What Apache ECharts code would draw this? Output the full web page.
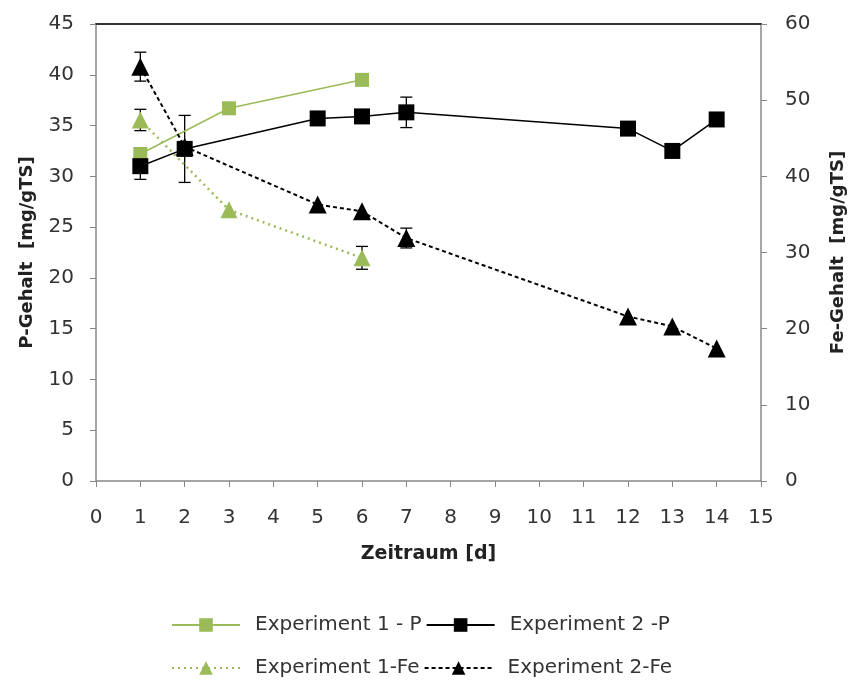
<!DOCTYPE html>
<html>
<head>
<meta charset="utf-8">
<script src="https://cdn.jsdelivr.net/npm/echarts@6/dist/echarts.min.js"></script>
<style>html,body{margin:0;padding:0;background:#fff}#c{width:849px;height:682px}</style>
</head>
<body>
<div id="c"></div>
<script>
const xTicks = [0, 15, 1];
const exp1P_x = [1, 3, 6];
const exp1P = [32.2, 36.7, 39.5];
const exp2P_x = [1, 2, 5, 6, 7, 12, 13, 14];
const exp2P = [31.0, 32.7, 35.7, 35.9, 36.3, 34.7, 32.5, 35.6];
const exp2P_err = [1.3, 3.3, 0, 0, 1.5, 0, 0, 0];
const exp1Fe_x = [1, 3, 6];
const exp1Fe = [47.4, 35.6, 29.3];
const exp1Fe_err = [1.4, 0, 1.5];
const exp2Fe_x = [1, 2, 5, 6, 7, 12, 13, 14];
const exp2Fe = [54.4, 43.9, 36.3, 35.4, 31.9, 21.6, 20.3, 17.4];
const exp2Fe_err = [1.9, 0, 0, 0, 1.3, 0, 0, 0];
const names = ['Experiment 1 - P', 'Experiment 2 -P', 'Experiment 1-Fe', 'Experiment 2-Fe'];

const GREEN = '#9BBB59';
const FONT = 'DejaVu Sans';

function pairs(xs, ys) { return xs.map((x, i) => [x, ys[i]]); }
function errData(xs, ys, es) {
  const out = [];
  xs.forEach((x, i) => { if (es[i] > 0) out.push([x, ys[i] - es[i], ys[i] + es[i]]); });
  return out;
}
function errSeries(data, yIdx) {
  return {
    type: 'custom', yAxisIndex: yIdx, z: 3, silent: true,
    data: data,
    renderItem: function (params, api) {
      const lo = api.coord([api.value(0), api.value(1)]);
      const hi = api.coord([api.value(0), api.value(2)]);
      const w = 6;
      const st = { stroke: '#000', lineWidth: 1.3 };
      return {
        type: 'group', children: [
          { type: 'line', shape: { x1: lo[0], y1: lo[1], x2: hi[0], y2: hi[1] }, style: st },
          { type: 'line', shape: { x1: lo[0] - w, y1: lo[1], x2: lo[0] + w, y2: lo[1] }, style: st },
          { type: 'line', shape: { x1: hi[0] - w, y1: hi[1], x2: hi[0] + w, y2: hi[1] }, style: st }
        ]
      };
    }
  };
}

const chart = echarts.init(document.getElementById('c'));
const legendText = { fontFamily: FONT, fontSize: 20, color: '#333', padding: [0, 0, 0, 10] };
chart.setOption({
  animation: false,
  textStyle: { fontFamily: FONT },
  grid: { left: 96, right: 88, top: 24, bottom: 201, outerBoundsMode: 'none', containLabel: false },
  legend: [
    { data: [names[0], names[1]], left: 166, top: 610, itemWidth: 68, itemHeight: 17, itemGap: 4, textStyle: legendText },
    { data: [names[2], names[3]], left: 166, top: 653, itemWidth: 68, itemHeight: 17, itemGap: 4, textStyle: legendText }
  ],
  xAxis: [{
    type: 'value', min: xTicks[0], max: xTicks[1], interval: xTicks[2],
    name: 'Zeitraum [d]', nameLocation: 'middle', nameGap: 64,
    nameTextStyle: { fontFamily: FONT, fontWeight: 'bold', fontSize: 19, color: '#222' },
    axisLine: { onZero: false, lineStyle: { color: '#888', width: 1.5 } },
    axisTick: { show: true, length: 6, lineStyle: { color: '#888' } },
    axisLabel: { fontFamily: FONT, fontSize: 20, color: '#333', margin: 27 },
    splitLine: { show: false }
  }, {
    type: 'value', position: 'top', min: xTicks[0], max: xTicks[1],
    axisLine: { show: true, onZero: false, lineStyle: { color: '#333', width: 2 } },
    axisTick: { show: false }, axisLabel: { show: false }, splitLine: { show: false }
  }],
  yAxis: [{
    type: 'value', min: 0, max: 45, interval: 5, position: 'left',
    name: 'P-Gehalt  [mg/gTS]', nameLocation: 'middle', nameGap: 60,
    nameTextStyle: { fontFamily: FONT, fontWeight: 'bold', fontSize: 18, color: '#222' },
    axisLine: { show: true, onZero: false, lineStyle: { color: '#888', width: 1.5 } },
    axisTick: { show: true, length: 6, lineStyle: { color: '#888' } },
    axisLabel: { fontFamily: FONT, fontSize: 20, color: '#333', margin: 22 },
    splitLine: { show: false }
  }, {
    type: 'value', min: 0, max: 60, interval: 10, position: 'right',
    name: 'Fe-Gehalt  [mg/gTS]', nameLocation: 'middle', nameGap: 68,
    nameTextStyle: { fontFamily: FONT, fontWeight: 'bold', fontSize: 18, color: '#222' },
    axisLine: { show: true, onZero: false, lineStyle: { color: '#888', width: 1.5 } },
    axisTick: { show: true, length: 6, lineStyle: { color: '#888' } },
    axisLabel: { fontFamily: FONT, fontSize: 20, color: '#333', margin: 24 },
    splitLine: { show: false }
  }],
  series: [
    errSeries(errData(exp2P_x, exp2P, exp2P_err), 0),
    errSeries(errData(exp1Fe_x, exp1Fe, exp1Fe_err), 1),
    errSeries(errData(exp2Fe_x, exp2Fe, exp2Fe_err), 1),
    {
      name: names[0], type: 'line', yAxisIndex: 0, z: 4,
      data: pairs(exp1P_x, exp1P), symbol: 'rect', symbolSize: 14,
      lineStyle: { color: GREEN, width: 1.5 }, itemStyle: { color: GREEN }
    },
    {
      name: names[2], type: 'line', yAxisIndex: 1, z: 4,
      data: pairs(exp1Fe_x, exp1Fe), symbol: 'triangle', symbolSize: 17,
      lineStyle: { color: GREEN, width: 2.5, type: [2, 4] }, itemStyle: { color: GREEN }
    },
    {
      name: names[3], type: 'line', yAxisIndex: 1, z: 5,
      data: pairs(exp2Fe_x, exp2Fe), symbol: 'triangle', symbolSize: 18,
      lineStyle: { color: '#000', width: 2, type: [4, 3] }, itemStyle: { color: '#000' }
    },
    {
      name: names[1], type: 'line', yAxisIndex: 0, z: 6,
      data: pairs(exp2P_x, exp2P), symbol: 'rect', symbolSize: 16,
      lineStyle: { color: '#000', width: 1.5 }, itemStyle: { color: '#000' }
    }
  ]
});
</script>
</body>
</html>
